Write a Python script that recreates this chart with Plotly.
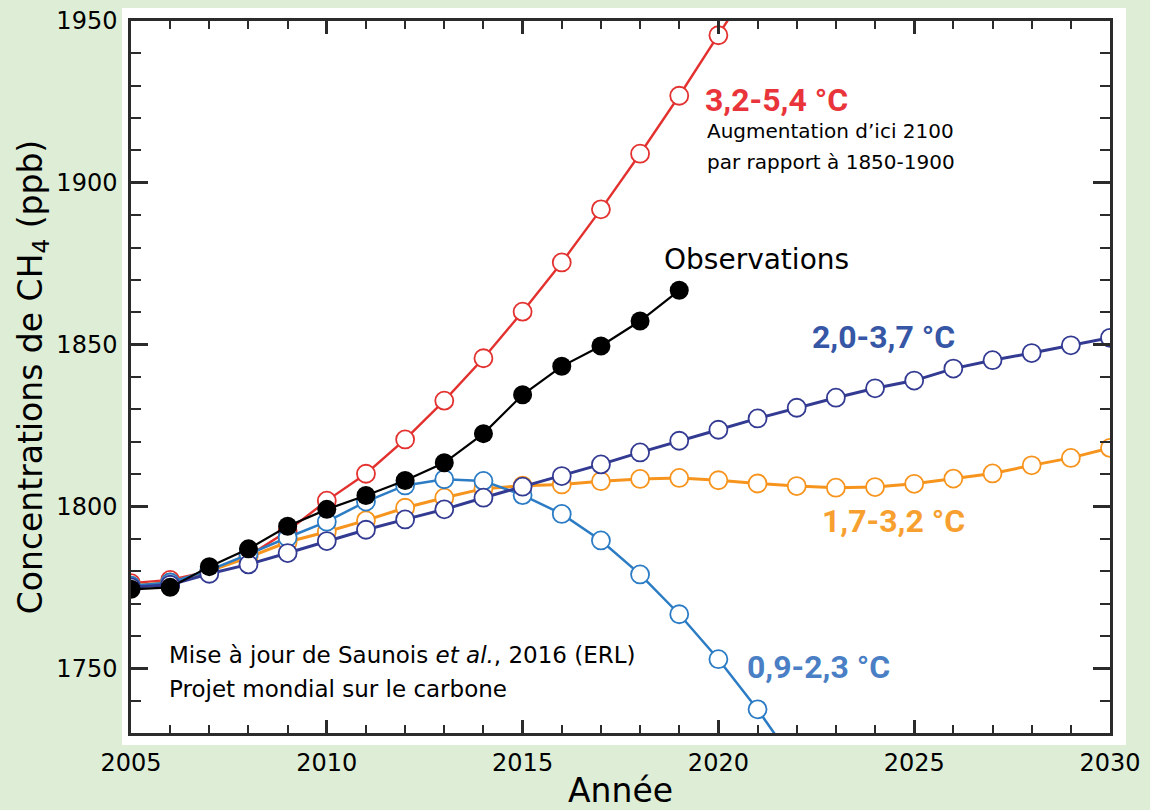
import plotly.graph_objects as go

# ---- data ----
obs_years = list(range(2005, 2020))
obs_ch4 = [1774.4, 1775.0, 1781.4, 1786.9, 1793.9, 1799.1, 1803.4, 1808.0,
           1813.5, 1822.5, 1834.5, 1843.3, 1849.6, 1857.3, 1866.8]

red_years = list(range(2005, 2022))
red_ch4 = [1776.3, 1777.3, 1780.0, 1784.7, 1792.4, 1801.8, 1810.1, 1820.7,
           1832.7, 1845.8, 1860.2, 1875.4, 1891.8, 1909.0, 1926.9, 1945.6, 1964.5]

orange_years = list(range(2005, 2031))
orange_ch4 = [1775.5, 1776.5, 1780.0, 1784.3, 1789.0, 1792.2, 1795.7, 1799.6,
              1802.7, 1805.5, 1806.4, 1806.8, 1807.8, 1808.5, 1808.8, 1808.1,
              1807.1, 1806.3, 1805.8, 1806.0, 1807.0, 1808.6, 1810.2, 1812.7,
              1815.0, 1818.1]

lblue_years = list(range(2005, 2023))
lblue_ch4 = [1775.5, 1776.5, 1780.3, 1785.2, 1790.4, 1795.3, 1801.5, 1806.5,
             1808.4, 1807.9, 1803.5, 1797.7, 1789.5, 1779.0, 1766.7, 1752.8,
             1737.3, 1720.0]

navy_years = list(range(2005, 2031))
navy_ch4 = [1775.0, 1775.8, 1779.2, 1782.1, 1785.6, 1789.3, 1792.8, 1796.0,
            1799.1, 1802.7, 1806.1, 1809.4, 1813.0, 1816.7, 1820.3, 1823.7,
            1827.2, 1830.5, 1833.6, 1836.5, 1838.9, 1842.6, 1845.2, 1847.4,
            1849.8, 1852.1]

x_ticks = [2005, 2010, 2015, 2020, 2025, 2030]
y_ticks = [1750, 1800, 1850, 1900, 1950]

# ---- styles ----
GREEN = "#deeed6"
RED, RED_T = "#e2312f", "#e8343a"
ORANGE, ORANGE_T = "#f7941d", "#f7a030"
LBLUE, LBLUE_T = "#2b7cc4", "#4a7fc5"
NAVY, NAVY_T = "#333a92", "#3656a6"
FONT = "DejaVu Sans"
BOLD = "Roboto"

fig = go.Figure()


def open_series(xs, ys, col, lw):
    fig.add_trace(go.Scatter(
        x=xs, y=ys, mode="lines+markers",
        line=dict(color=col, width=lw),
        marker=dict(symbol="circle", size=18, color="white",
                    line=dict(color=col, width=1.8)),
        showlegend=False, hoverinfo="skip"))


open_series(red_years, red_ch4, RED, 2.4)
open_series(orange_years, orange_ch4, ORANGE, 3)
open_series(lblue_years, lblue_ch4, LBLUE, 2.5)
open_series(navy_years, navy_ch4, NAVY, 3)

fig.add_trace(go.Scatter(
    x=obs_years, y=obs_ch4, mode="lines+markers",
    line=dict(color="black", width=2.2),
    marker=dict(symbol="circle", size=19, color="black"),
    showlegend=False, hoverinfo="skip"))

# ---- annotations ----
ann = [
    (2019.61, 1925.6, "<b>3,2-5,4 °C</b>", RED_T, 32, BOLD),
    (2019.66, 1916.0, "Augmentation d’ici 2100", "black", 20, FONT),
    (2019.66, 1906.5, "par rapport à 1850-1900", "black", 20, FONT),
    (2018.56, 1876.2, "Observations", "black", 28, FONT),
    (2022.34, 1852.5, "<b>2,0-3,7 °C</b>", NAVY_T, 32, BOLD),
    (2022.59, 1795.4, "<b>1,7-3,2 °C</b>", ORANGE_T, 32, BOLD),
    (2020.68, 1750.3, "<b>0,9-2,3 °C</b>", LBLUE_T, 32, BOLD),
    (2005.92, 1754.0, "Mise à jour de Saunois <i>et al.</i>, 2016 (ERL)", "black", 23, FONT),
    (2005.92, 1743.5, "Projet mondial sur le carbone", "black", 23, FONT),
]
for x, y, t, c, s, f in ann:
    fig.add_annotation(x=x, y=y, xref="x", yref="y", text=t, showarrow=False,
                       xanchor="left", yanchor="middle",
                       font=dict(color=c, size=s, family=f))

# white panel behind the plot
W, H = 979, 712
fig.add_shape(type="rect", xref="paper", yref="paper", layer="below",
              x0=(122 - 131) / W, x1=(1126 - 131) / W,
              y0=(733 - 745) / H, y1=(733 - 8) / H,
              fillcolor="white", line=dict(width=0))

axis_common = dict(showline=True, linecolor="#2b2b2b", linewidth=2.5,
                   mirror="allticks", ticks="inside", tickcolor="#2b2b2b",
                   tickwidth=2.5, showgrid=False, zeroline=False,
                   automargin=False,
                   tickfont=dict(family=FONT, size=24, color="black"))

fig.update_xaxes(range=[2005, 2030], tickvals=x_ticks, ticklen=13,
                 minor=dict(dtick=1, ticklen=8, tickwidth=2, tickcolor="#2b2b2b",
                            ticks="inside", showgrid=False),
                 ticklabelstandoff=6,
                 title=dict(text="Année", font=dict(family=FONT, size=33, color="black"),
                            standoff=4),
                 **axis_common)
fig.update_yaxes(range=[1730, 1950], tickvals=y_ticks, ticklen=17,
                 minor=dict(dtick=10, tick0=1730, ticklen=10, tickwidth=2,
                            tickcolor="#2b2b2b", ticks="inside", showgrid=False),
                 ticklabelstandoff=6,
                 title=dict(text="Concentrations de CH<sub>4</sub> (ppb)",
                            font=dict(family=FONT, size=33, color="black"),
                            standoff=4),
                 **axis_common)

fig.update_layout(width=1150, height=810,
                  margin=dict(l=131, r=40, t=21, b=77),
                  paper_bgcolor=GREEN, plot_bgcolor="white",
                  font=dict(family=FONT, color="black"))

fig.write_html("out.html",
               config={"displayModeBar": False},
               post_script="document.body.style.margin='0';"
                           "document.body.style.overflow='hidden';"
                           "document.body.style.background='" + GREEN + "';")
